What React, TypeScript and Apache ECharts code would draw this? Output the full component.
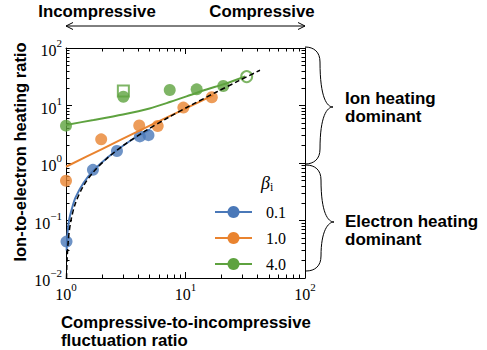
import React, { useEffect, useRef } from 'react';
import * as echarts from 'echarts';

// ---- axis ranges & tick values ----
const xMin = 1;
const xMax = 100;
const yMin = 0.01;
const yMax = 100;
const minorX = [2, 3, 4, 5, 6, 7, 8, 9, 20, 30, 40, 50, 60, 70, 80, 90];
const minorY = [
  0.02, 0.03, 0.04, 0.05, 0.06, 0.07, 0.08, 0.09,
  0.2, 0.3, 0.4, 0.5, 0.6, 0.7, 0.8, 0.9,
  2, 3, 4, 5, 6, 7, 8, 9,
  20, 30, 40, 50, 60, 70, 80, 90,
];

// ---- legend / series names ----
const betaLabels = ['0.1', '1.0', '4.0'];
const colors = ['#4a78b8', '#e9832f', '#5ea23f'];

// ---- measured points ----
const blueX = [1.01, 1.68, 2.67, 4.15, 4.9];
const blueY = [0.043, 0.76, 1.62, 2.9, 3.05];
const orangeX = [1.0, 1.97, 4.1, 5.85, 9.6, 16.6];
const orangeY = [0.49, 2.58, 4.5, 4.4, 9.2, 13.9];
const greenX = [1.0, 3.02, 7.38, 12.4, 20.7];
const greenY = [4.46, 14.2, 18.6, 19.1, 21.8];
const greenSquareX = [3.02];
const greenSquareY = [17.9];
const greenOpenX = [32.5];
const greenOpenY = [31.8];

// ---- fitted curves ----
const blueFitX = [1.012, 1.03, 1.06, 1.12, 1.2, 1.4, 1.7, 2.2, 3, 4, 5.05];
const blueFitY = [0.03, 0.06, 0.1, 0.16, 0.25, 0.45, 0.74, 1.22, 2.0, 2.95, 3.85];
const orangeFitX = [1, 2, 4, 8, 17.1];
const orangeFitY = [0.86, 1.75, 3.55, 7.1, 15.2];
const greenFitX = [1, 1.7, 3, 5, 7.5, 11, 15, 21, 31.5];
const greenFitY = [4.6, 5.6, 7.0, 8.9, 11.6, 15.2, 19.0, 23.5, 32];
const dashX = [1.01, 1.02, 1.05, 1.1, 1.2, 1.4, 1.7, 2.2, 3, 4.5, 7, 11, 18, 28, 42];
const dashY = [0.01, 0.02, 0.05, 0.1, 0.2, 0.4, 0.7, 1.2, 2, 3.5, 6, 10, 17, 27, 41];

const pairs = (xs: number[], ys: number[]) => xs.map((x, i) => [x, ys[i]]);

const SANS = '"Liberation Sans", Arial, sans-serif';
const SERIF = '"Liberation Serif", "Times New Roman", serif';

const fmt = (v: number) => {
  const e = Math.round(Math.log10(v));
  const s = e < 0 ? '\u2212' + -e : String(e);
  return `{b|10}{s|${s}}`;
};
const rich = {
  b: { fontFamily: SERIF, fontSize: 16, lineHeight: 16, verticalAlign: 'bottom', color: '#000' },
  s: { fontFamily: SERIF, fontSize: 11, lineHeight: 21, verticalAlign: 'top', color: '#000' },
};

const tickLine = { color: '#000', width: 1 };

function brace(x0: number, xs: number, xt: number, y0: number, mid: number, y1: number) {
  const st = { stroke: '#000', lineWidth: 1, fill: 'none' };
  return [
    { type: 'bezierCurve', shape: { x1: x0, y1: y0, cpx1: x0 + 9, cpy1: y0, cpx2: xs, cpy2: y0 + 5, x2: xs, y2: y0 + 15 }, style: st },
    { type: 'bezierCurve', shape: { x1: xs, y1: y0 + 15, cpx1: xs, cpy1: mid - 9, cpx2: xt - 6, cpy2: mid, x2: xt, y2: mid }, style: st },
    { type: 'bezierCurve', shape: { x1: xt, y1: mid, cpx1: xt - 6, cpy1: mid, cpx2: xs, cpy2: mid + 9, x2: xs, y2: y1 - 15 }, style: st },
    { type: 'bezierCurve', shape: { x1: xs, y1: y1 - 15, cpx1: xs, cpy1: y1 - 5, cpx2: x0 + 9, cpy2: y1, x2: x0, y2: y1 }, style: st },
  ];
}

const majorAxis = (type: 'x' | 'y', position: string, min: number, max: number, labels: boolean) => ({
  type: 'log',
  logBase: 10,
  min,
  max,
  position,
  axisLine: { show: true, onZero: false, lineStyle: tickLine },
  axisTick: { show: true, inside: true, length: 6, lineStyle: tickLine },
  axisLabel: labels ? { formatter: fmt, rich, margin: type === 'x' ? 3 : 4 } : { show: false },
  splitLine: { show: false },
});

const minorAxis = (position: string, min: number, max: number, vals: number[]) => ({
  type: 'value',
  min: Math.log10(min),
  max: Math.log10(max),
  position,
  axisLine: { show: false, onZero: false },
  axisTick: { show: true, inside: true, length: 3.5, lineStyle: tickLine, customValues: vals.map(Math.log10) },
  axisLabel: { show: false },
  splitLine: { show: false },
});

export default function App() {
  const ref = useRef<HTMLDivElement>(null);
  useEffect(() => {
    document.body.style.margin = '0';
    const chart = echarts.init(ref.current!, undefined, { renderer: 'svg' });
    const fitSeries = (name: string, color: string, xs: number[], ys: number[]) => ({
      name,
      type: 'line',
      xAxisIndex: 0,
      yAxisIndex: 0,
      data: pairs(xs, ys),
      smooth: 0.3,
      symbol: 'circle',
      showSymbol: false,
      itemStyle: { color },
      lineStyle: { color, width: 2 },
      emphasis: { disabled: true },
      silent: true,
    });
    const scatter = (name: string, color: string, xs: number[], ys: number[], extra: any = {}) => ({
      name,
      type: 'scatter',
      xAxisIndex: 0,
      yAxisIndex: 0,
      data: pairs(xs, ys),
      symbol: 'circle',
      symbolSize: 12,
      itemStyle: { color },
      emphasis: { disabled: true },
      silent: true,
      ...extra,
    });
    const option: any = {
      animation: false,
      grid: { left: 66, right: 182, top: 48, bottom: 72, containLabel: false },
      xAxis: [
        majorAxis('x', 'bottom', xMin, xMax, true),
        minorAxis('bottom', xMin, xMax, minorX),
        majorAxis('x', 'top', xMin, xMax, false),
        minorAxis('top', xMin, xMax, minorX),
      ],
      yAxis: [
        majorAxis('y', 'left', yMin, yMax, true),
        minorAxis('left', yMin, yMax, minorY),
        majorAxis('y', 'right', yMin, yMax, false),
        minorAxis('right', yMin, yMax, minorY),
      ],
      legend: {
        data: betaLabels,
        orient: 'vertical',
        left: 209,
        top: 199,
        itemWidth: 37,
        itemHeight: 15,
        itemGap: 10,
        selectedMode: false,
        textStyle: { fontFamily: SERIF, fontSize: 16, color: '#000', padding: [0, 0, 0, 9], lineHeight: 15 },
      },
      series: [
        fitSeries(betaLabels[0], colors[0], blueFitX, blueFitY),
        fitSeries(betaLabels[1], colors[1], orangeFitX, orangeFitY),
        fitSeries(betaLabels[2], colors[2], greenFitX, greenFitY),
        scatter('pts0.1', colors[0], blueX, blueY),
        scatter('pts1.0', colors[1], orangeX, orangeY),
        scatter('sq4.0', colors[2], greenSquareX, greenSquareY, {
          symbol: 'rect', symbolSize: 11, itemStyle: { color: '#fff', borderColor: colors[2], borderWidth: 2 },
        }),
        scatter('pts4.0', colors[2], greenX, greenY),
        scatter('open4.0', colors[2], greenOpenX, greenOpenY, {
          symbolSize: 11, itemStyle: { color: '#fff', borderColor: colors[2], borderWidth: 2 },
        }),
        {
          name: 'dashed',
          type: 'line',
          xAxisIndex: 0,
          yAxisIndex: 0,
          data: pairs(dashX, dashY),
          smooth: 0.3,
          symbol: 'none',
          lineStyle: { color: '#000', width: 1.5, type: [5, 3] },
          emphasis: { disabled: true },
          silent: true,
        },
      ],
      graphic: [
        { type: 'text', x: 97, y: 11, style: { text: 'Incompressive', fontFamily: SANS, fontWeight: 'bold', fontSize: 16.8, fill: '#000', align: 'center', verticalAlign: 'middle' } },
        { type: 'text', x: 262, y: 11, style: { text: 'Compressive', fontFamily: SANS, fontWeight: 'bold', fontSize: 16.8, fill: '#000', align: 'center', verticalAlign: 'middle' } },
        { type: 'line', shape: { x1: 66, y1: 26, x2: 305, y2: 26 }, style: { stroke: '#000', lineWidth: 1 } },
        { type: 'polyline', shape: { points: [[73, 22.5], [66, 26], [73, 29.5]] }, style: { stroke: '#000', lineWidth: 1, fill: 'none' } },
        { type: 'polyline', shape: { points: [[298, 22.5], [305, 26], [298, 29.5]] }, style: { stroke: '#000', lineWidth: 1, fill: 'none' } },
        { type: 'text', x: 20, y: 152, rotation: Math.PI / 2, style: { text: 'Ion-to-electron heating ratio', fontFamily: SANS, fontWeight: 'bold', fontSize: 16.5, fill: '#000', align: 'center', verticalAlign: 'middle' } },
        { type: 'text', x: 61, y: 314, style: { text: 'Compressive-to-incompressive\nfluctuation ratio', fontFamily: SANS, fontWeight: 'bold', fontSize: 16.8, lineHeight: 17.5, fill: '#000', align: 'left', verticalAlign: 'top' } },
        { type: 'text', x: 345, y: 89, style: { text: 'Ion heating\ndominant', fontFamily: SANS, fontWeight: 'bold', fontSize: 17, lineHeight: 18, fill: '#000', align: 'left', verticalAlign: 'top' } },
        { type: 'text', x: 345, y: 212.5, style: { text: 'Electron heating\ndominant', fontFamily: SANS, fontWeight: 'bold', fontSize: 17, lineHeight: 18, fill: '#000', align: 'left', verticalAlign: 'top' } },
        ...brace(305, 320, 333, 47, 107, 164),
        ...brace(306, 321, 334, 165, 222, 271),
        {
          type: 'text', x: 261, y: 183,
          style: {
            text: '{a|β}{b|i}',
            align: 'left', verticalAlign: 'middle',
            rich: {
              a: { fontFamily: SERIF, fontStyle: 'italic', fontSize: 18, lineHeight: 20, fill: '#000', color: '#000' },
              b: { fontFamily: SERIF, fontSize: 12, lineHeight: 12, verticalAlign: 'bottom', fill: '#000', color: '#000' },
            },
          },
        },
      ],
    };
    chart.setOption(option);
    return () => chart.dispose();
  }, []);
  return <div ref={ref} style={{ width: 487, height: 350, position: 'absolute', left: 0, top: 0 }} />;
}
